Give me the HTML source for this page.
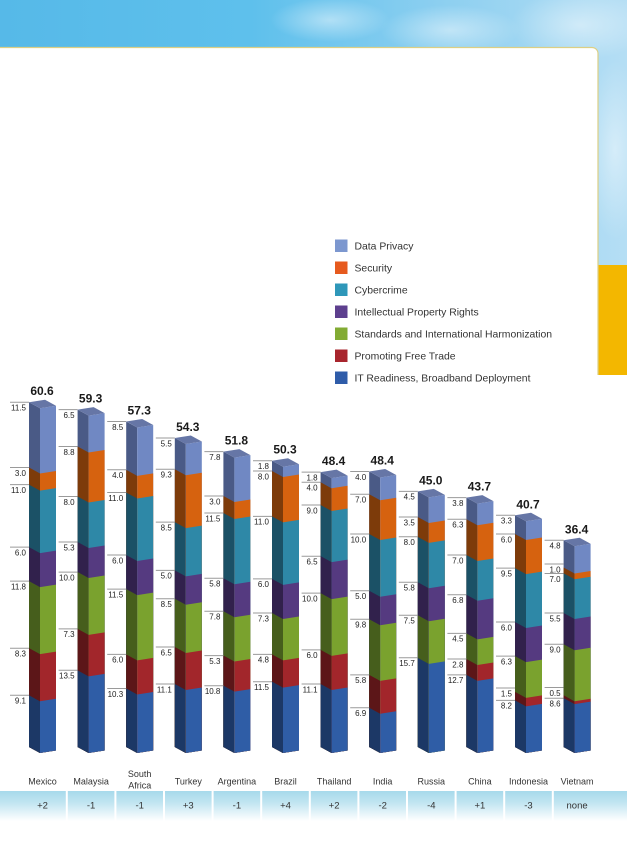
<!DOCTYPE html>
<html><head><meta charset="utf-8"><style>
body{margin:0;background:#fff}
svg{display:block}
.l .p{fill:#4a5a86}.r .p{fill:#7088c3}
.l .s{fill:#7d3b0a}.r .s{fill:#d6620f}
.l .c{fill:#1b5166}.r .c{fill:#2e88a7}
.l .i{fill:#31214c}.r .i{fill:#553a80}
.l .d{fill:#465e1c}.r .d{fill:#7aa22e}
.l .f{fill:#5c1618}.r .f{fill:#a2262b}
.l .t{fill:#1c3866}.r .t{fill:#2f5da6}
.cap{fill:#6676a6}
text{font-family:"Liberation Sans",sans-serif}
.v{font-size:8px;fill:#222;text-anchor:end}
.tot{font-size:12px;font-weight:bold;fill:#1a1a1a;text-anchor:middle}
.cn{font-size:9px;fill:#333;text-anchor:middle}
.rk{font-size:9.5px;fill:#333;text-anchor:middle}
.lg{font-size:10.4px;fill:#333}
</style></head><body>
<svg width="627" height="850" viewBox="0 0 627 850" xmlns="http://www.w3.org/2000/svg">
<defs>
<linearGradient id="sky" x1="0" y1="0" x2="1" y2="0">
<stop offset="0" stop-color="#56b9e8"/><stop offset="0.4" stop-color="#5ec0ec"/><stop offset="0.7" stop-color="#8ccff0"/><stop offset="1" stop-color="#b5def4"/>
</linearGradient>
<radialGradient id="cl"><stop offset="0" stop-color="#ffffff" stop-opacity="0.45"/><stop offset="1" stop-color="#ffffff" stop-opacity="0"/></radialGradient>
<linearGradient id="band" x1="0" y1="0" x2="0" y2="1">
<stop offset="0" stop-color="#a7d9eb"/><stop offset="0.4" stop-color="#c2e5f1"/><stop offset="1" stop-color="#ffffff"/>
</linearGradient>
</defs>
<rect x="0" y="0" width="627" height="266" fill="url(#sky)"/>
<ellipse cx="330" cy="20" rx="60" ry="22" fill="url(#cl)"/>
<ellipse cx="450" cy="30" rx="70" ry="25" fill="url(#cl)"/>
<ellipse cx="580" cy="25" rx="70" ry="35" fill="url(#cl)"/>
<ellipse cx="615" cy="150" rx="30" ry="90" fill="url(#cl)"/>
<path d="M0 47H592a6 6 0 0 1 6 6V850H0Z" fill="#fff"/>
<rect x="598" y="375" width="29" height="475" fill="#fff"/>
<rect x="598.5" y="265" width="28.5" height="110" fill="#f3b700"/>
<path d="M0 47.5H592a6 6 0 0 1 6 6V375" fill="none" stroke="#dccf84" stroke-width="1.2"/>

<!-- legend -->
<rect x="335" y="239.5" width="12.5" height="12.5" fill="#7c97cf"/>
<rect x="335" y="261.5" width="12.5" height="12.5" fill="#e65a1e"/>
<rect x="335" y="283.5" width="12.5" height="12.5" fill="#2e97b9"/>
<rect x="335" y="305.5" width="12.5" height="12.5" fill="#5d3f8e"/>
<rect x="335" y="327.5" width="12.5" height="12.5" fill="#82ab33"/>
<rect x="335" y="349.5" width="12.5" height="12.5" fill="#a8252d"/>
<rect x="335" y="371.5" width="12.5" height="12.5" fill="#2f5ca9"/>
<text class="lg" x="354.5" y="249.5">Data Privacy</text>
<text class="lg" x="354.5" y="271.5">Security</text>
<text class="lg" x="354.5" y="293.5">Cybercrime</text>
<text class="lg" x="354.5" y="315.5">Intellectual Property Rights</text>
<text class="lg" x="354.5" y="337.5">Standards and International Harmonization</text>
<text class="lg" x="354.5" y="359.5">Promoting Free Trade</text>
<text class="lg" x="354.5" y="381.5">IT Readiness, Broadband Deployment</text>

<!-- bars -->
<g class="l" transform="matrix(1,.5455,0,1,29,-6)"><g transform="translate(0,753) scale(1,-5.68)"><rect class="p" width="11" height="60.7"/><rect class="s" width="11" height="49.2"/><rect class="c" width="11" height="46.2"/><rect class="i" width="11" height="35.2"/><rect class="d" width="11" height="29.2"/><rect class="f" width="11" height="17.4"/><rect class="t" width="11" height="9.1"/></g></g>
<g class="r" transform="matrix(1,-.15625,0,1,40,0)"><g transform="translate(0,753) scale(1,-5.68)"><rect class="p" width="16" height="60.7"/><rect class="s" width="16" height="49.2"/><rect class="c" width="16" height="46.2"/><rect class="i" width="16" height="35.2"/><rect class="d" width="16" height="29.2"/><rect class="f" width="16" height="17.4"/><rect class="t" width="16" height="9.1"/></g></g>
<polygon class="cap" points="29,402.2 40,408.2 56,405.7 45,399.7"/>

<g class="l" transform="matrix(1,.5455,0,1,77.6,-6)"><g transform="translate(0,753) scale(1,-5.68)"><rect class="p" width="11" height="59.4"/><rect class="s" width="11" height="52.9"/><rect class="c" width="11" height="44.1"/><rect class="i" width="11" height="36.1"/><rect class="d" width="11" height="30.8"/><rect class="f" width="11" height="20.8"/><rect class="t" width="11" height="13.5"/></g></g>
<g class="r" transform="matrix(1,-.15625,0,1,88.6,0)"><g transform="translate(0,753) scale(1,-5.68)"><rect class="p" width="16" height="59.4"/><rect class="s" width="16" height="52.9"/><rect class="c" width="16" height="44.1"/><rect class="i" width="16" height="36.1"/><rect class="d" width="16" height="30.8"/><rect class="f" width="16" height="20.8"/><rect class="t" width="16" height="13.5"/></g></g>
<polygon class="cap" points="77.6,409.6 88.6,415.6 104.6,413.1 93.6,407.1"/>

<g class="l" transform="matrix(1,.5455,0,1,126.2,-6)"><g transform="translate(0,753) scale(1,-5.68)"><rect class="p" width="11" height="57.3"/><rect class="s" width="11" height="48.8"/><rect class="c" width="11" height="44.8"/><rect class="i" width="11" height="33.8"/><rect class="d" width="11" height="27.8"/><rect class="f" width="11" height="16.3"/><rect class="t" width="11" height="10.3"/></g></g>
<g class="r" transform="matrix(1,-.15625,0,1,137.2,0)"><g transform="translate(0,753) scale(1,-5.68)"><rect class="p" width="16" height="57.3"/><rect class="s" width="16" height="48.8"/><rect class="c" width="16" height="44.8"/><rect class="i" width="16" height="33.8"/><rect class="d" width="16" height="27.8"/><rect class="f" width="16" height="16.3"/><rect class="t" width="16" height="10.3"/></g></g>
<polygon class="cap" points="126.2,421.5 137.2,427.5 153.2,425 142.2,419"/>

<g class="l" transform="matrix(1,.5455,0,1,174.8,-6)"><g transform="translate(0,753) scale(1,-5.68)"><rect class="p" width="11" height="54.4"/><rect class="s" width="11" height="48.9"/><rect class="c" width="11" height="39.6"/><rect class="i" width="11" height="31.1"/><rect class="d" width="11" height="26.1"/><rect class="f" width="11" height="17.6"/><rect class="t" width="11" height="11.1"/></g></g>
<g class="r" transform="matrix(1,-.15625,0,1,185.8,0)"><g transform="translate(0,753) scale(1,-5.68)"><rect class="p" width="16" height="54.4"/><rect class="s" width="16" height="48.9"/><rect class="c" width="16" height="39.6"/><rect class="i" width="16" height="31.1"/><rect class="d" width="16" height="26.1"/><rect class="f" width="16" height="17.6"/><rect class="t" width="16" height="11.1"/></g></g>
<polygon class="cap" points="174.8,438 185.8,444 201.8,441.5 190.8,435.5"/>

<g class="l" transform="matrix(1,.5455,0,1,223.4,-6)"><g transform="translate(0,753) scale(1,-5.68)"><rect class="p" width="11" height="52"/><rect class="s" width="11" height="44.2"/><rect class="c" width="11" height="41.2"/><rect class="i" width="11" height="29.7"/><rect class="d" width="11" height="23.9"/><rect class="f" width="11" height="16.1"/><rect class="t" width="11" height="10.8"/></g></g>
<g class="r" transform="matrix(1,-.15625,0,1,234.4,0)"><g transform="translate(0,753) scale(1,-5.68)"><rect class="p" width="16" height="52"/><rect class="s" width="16" height="44.2"/><rect class="c" width="16" height="41.2"/><rect class="i" width="16" height="29.7"/><rect class="d" width="16" height="23.9"/><rect class="f" width="16" height="16.1"/><rect class="t" width="16" height="10.8"/></g></g>
<polygon class="cap" points="223.4,451.6 234.4,457.6 250.4,455.1 239.4,449.1"/>

<g class="l" transform="matrix(1,.5455,0,1,272,-6)"><g transform="translate(0,753) scale(1,-5.68)"><rect class="p" width="11" height="50.4"/><rect class="s" width="11" height="48.6"/><rect class="c" width="11" height="40.6"/><rect class="i" width="11" height="29.6"/><rect class="d" width="11" height="23.6"/><rect class="f" width="11" height="16.3"/><rect class="t" width="11" height="11.5"/></g></g>
<g class="r" transform="matrix(1,-.15625,0,1,283,0)"><g transform="translate(0,753) scale(1,-5.68)"><rect class="p" width="16" height="50.4"/><rect class="s" width="16" height="48.6"/><rect class="c" width="16" height="40.6"/><rect class="i" width="16" height="29.6"/><rect class="d" width="16" height="23.6"/><rect class="f" width="16" height="16.3"/><rect class="t" width="16" height="11.5"/></g></g>
<polygon class="cap" points="272,460.7 283,466.7 299,464.2 288,458.2"/>

<g class="l" transform="matrix(1,.5455,0,1,320.6,-6)"><g transform="translate(0,753) scale(1,-5.68)"><rect class="p" width="11" height="48.4"/><rect class="s" width="11" height="46.6"/><rect class="c" width="11" height="42.6"/><rect class="i" width="11" height="33.6"/><rect class="d" width="11" height="27.1"/><rect class="f" width="11" height="17.1"/><rect class="t" width="11" height="11.1"/></g></g>
<g class="r" transform="matrix(1,-.15625,0,1,331.6,0)"><g transform="translate(0,753) scale(1,-5.68)"><rect class="p" width="16" height="48.4"/><rect class="s" width="16" height="46.6"/><rect class="c" width="16" height="42.6"/><rect class="i" width="16" height="33.6"/><rect class="d" width="16" height="27.1"/><rect class="f" width="16" height="17.1"/><rect class="t" width="16" height="11.1"/></g></g>
<polygon class="cap" points="320.6,472.1 331.6,478.1 347.6,475.6 336.6,469.6"/>

<g class="l" transform="matrix(1,.5455,0,1,369.2,-6)"><g transform="translate(0,753) scale(1,-5.68)"><rect class="p" width="11" height="48.5"/><rect class="s" width="11" height="44.5"/><rect class="c" width="11" height="37.5"/><rect class="i" width="11" height="27.5"/><rect class="d" width="11" height="22.5"/><rect class="f" width="11" height="12.7"/><rect class="t" width="11" height="6.9"/></g></g>
<g class="r" transform="matrix(1,-.15625,0,1,380.2,0)"><g transform="translate(0,753) scale(1,-5.68)"><rect class="p" width="16" height="48.5"/><rect class="s" width="16" height="44.5"/><rect class="c" width="16" height="37.5"/><rect class="i" width="16" height="27.5"/><rect class="d" width="16" height="22.5"/><rect class="f" width="16" height="12.7"/><rect class="t" width="16" height="6.9"/></g></g>
<polygon class="cap" points="369.2,471.5 380.2,477.5 396.2,475 385.2,469"/>

<g class="l" transform="matrix(1,.5455,0,1,417.8,-6)"><g transform="translate(0,753) scale(1,-5.68)"><rect class="p" width="11" height="45"/><rect class="s" width="11" height="40.5"/><rect class="c" width="11" height="37"/><rect class="i" width="11" height="29"/><rect class="d" width="11" height="23.2"/><rect class="t" width="11" height="15.7"/></g></g>
<g class="r" transform="matrix(1,-.15625,0,1,428.8,0)"><g transform="translate(0,753) scale(1,-5.68)"><rect class="p" width="16" height="45"/><rect class="s" width="16" height="40.5"/><rect class="c" width="16" height="37"/><rect class="i" width="16" height="29"/><rect class="d" width="16" height="23.2"/><rect class="t" width="16" height="15.7"/></g></g>
<polygon class="cap" points="417.8,491.4 428.8,497.4 444.8,494.9 433.8,488.9"/>

<g class="l" transform="matrix(1,.5455,0,1,466.4,-6)"><g transform="translate(0,753) scale(1,-5.68)"><rect class="p" width="11" height="43.9"/><rect class="s" width="11" height="40.1"/><rect class="c" width="11" height="33.8"/><rect class="i" width="11" height="26.8"/><rect class="d" width="11" height="20"/><rect class="f" width="11" height="15.5"/><rect class="t" width="11" height="12.7"/></g></g>
<g class="r" transform="matrix(1,-.15625,0,1,477.4,0)"><g transform="translate(0,753) scale(1,-5.68)"><rect class="p" width="16" height="43.9"/><rect class="s" width="16" height="40.1"/><rect class="c" width="16" height="33.8"/><rect class="i" width="16" height="26.8"/><rect class="d" width="16" height="20"/><rect class="f" width="16" height="15.5"/><rect class="t" width="16" height="12.7"/></g></g>
<polygon class="cap" points="466.4,497.6 477.4,503.6 493.4,501.1 482.4,495.1"/>

<g class="l" transform="matrix(1,.5455,0,1,515,-6)"><g transform="translate(0,753) scale(1,-5.68)"><rect class="p" width="11" height="40.8"/><rect class="s" width="11" height="37.5"/><rect class="c" width="11" height="31.5"/><rect class="i" width="11" height="22"/><rect class="d" width="11" height="16"/><rect class="f" width="11" height="9.7"/><rect class="t" width="11" height="8.2"/></g></g>
<g class="r" transform="matrix(1,-.15625,0,1,526,0)"><g transform="translate(0,753) scale(1,-5.68)"><rect class="p" width="16" height="40.8"/><rect class="s" width="16" height="37.5"/><rect class="c" width="16" height="31.5"/><rect class="i" width="16" height="22"/><rect class="d" width="16" height="16"/><rect class="f" width="16" height="9.7"/><rect class="t" width="16" height="8.2"/></g></g>
<polygon class="cap" points="515,515.3 526,521.3 542,518.8 531,512.8"/>

<g class="l" transform="matrix(1,.5455,0,1,563.6,-6)"><g transform="translate(0,753) scale(1,-5.68)"><rect class="p" width="11" height="36.4"/><rect class="s" width="11" height="31.6"/><rect class="c" width="11" height="30.6"/><rect class="i" width="11" height="23.6"/><rect class="d" width="11" height="18.1"/><rect class="f" width="11" height="9.1"/><rect class="t" width="11" height="8.6"/></g></g>
<g class="r" transform="matrix(1,-.15625,0,1,574.6,0)"><g transform="translate(0,753) scale(1,-5.68)"><rect class="p" width="16" height="36.4"/><rect class="s" width="16" height="31.6"/><rect class="c" width="16" height="30.6"/><rect class="i" width="16" height="23.6"/><rect class="d" width="16" height="18.1"/><rect class="f" width="16" height="9.1"/><rect class="t" width="16" height="8.6"/></g></g>
<polygon class="cap" points="563.6,540.3 574.6,546.3 590.6,543.8 579.6,537.8"/>

<!-- leader lines -->
<path fill="none" stroke="#9a9a9a" stroke-width="1" d="
M10 695.3h19M10 648.2h19M10 581.1h19M10 547.1h19M10 484.6h19M10 467.5h19M10 402.2h19
M58.6 670.3h19M58.6 628.9h19M58.6 572.1h19M58.6 542h19M58.6 496.5h19M58.6 446.5h19M58.6 409.6h19
M107.2 688.5h19M107.2 654.4h19M107.2 589.1h19M107.2 555h19M107.2 492.5h19M107.2 469.8h19M107.2 421.5h19
M155.8 684h19M155.8 647h19M155.8 598.8h19M155.8 570.4h19M155.8 522.1h19M155.8 469.3h19M155.8 438h19
M204.4 685.7h19M204.4 655.6h19M204.4 611.3h19M204.4 578.3h19M204.4 513h19M204.4 496h19M204.4 451.6h19
M253 681.7h19M253 654.4h19M253 613h19M253 578.9h19M253 516.4h19M253 471h19M253 460.7h19
M301.6 684h19M301.6 649.9h19M301.6 593.1h19M301.6 556.2h19M301.6 505h19M301.6 482.3h19M301.6 472.1h19
M350.2 707.8h19M350.2 674.9h19M350.2 619.2h19M350.2 590.8h19M350.2 534h19M350.2 494.2h19M350.2 471.5h19
M398.8 657.8h19M398.8 615.2h19M398.8 582.3h19M398.8 536.8h19M398.8 517h19M398.8 491.4h19
M447.4 674.9h19M447.4 659h19M447.4 633.4h19M447.4 594.8h19M447.4 555h19M447.4 519.2h19M447.4 497.6h19
M496 700.4h19M496 688h19M496 656.1h19M496 622h19M496 568.1h19M496 534h19M496 515.3h19
M544.6 698.2h19M544.6 687.5h19M544.6 644.2h19M544.6 613h19M544.6 573.5h19M544.6 564h19M544.6 540.3h19"/>

<!-- value labels -->
<g class="v">
<text x="26" y="703.6">9.1</text><text x="26" y="656.5">8.3</text><text x="26" y="589.4">11.8</text><text x="26" y="555.4">6.0</text><text x="26" y="492.9">11.0</text><text x="26" y="475.8">3.0</text><text x="26" y="410.5">11.5</text>
<text x="74.6" y="678.6">13.5</text><text x="74.6" y="637.2">7.3</text><text x="74.6" y="580.4">10.0</text><text x="74.6" y="550.3">5.3</text><text x="74.6" y="504.8">8.0</text><text x="74.6" y="454.8">8.8</text><text x="74.6" y="417.9">6.5</text>
<text x="123.2" y="696.8">10.3</text><text x="123.2" y="662.7">6.0</text><text x="123.2" y="597.4">11.5</text><text x="123.2" y="563.3">6.0</text><text x="123.2" y="500.8">11.0</text><text x="123.2" y="478.1">4.0</text><text x="123.2" y="429.8">8.5</text>
<text x="171.8" y="692.3">11.1</text><text x="171.8" y="655.3">6.5</text><text x="171.8" y="607.1">8.5</text><text x="171.8" y="578.7">5.0</text><text x="171.8" y="530.4">8.5</text><text x="171.8" y="477.6">9.3</text><text x="171.8" y="446.3">5.5</text>
<text x="220.4" y="694">10.8</text><text x="220.4" y="663.9">5.3</text><text x="220.4" y="619.6">7.8</text><text x="220.4" y="586.6">5.8</text><text x="220.4" y="521.3">11.5</text><text x="220.4" y="504.3">3.0</text><text x="220.4" y="459.9">7.8</text>
<text x="269" y="690">11.5</text><text x="269" y="662.7">4.8</text><text x="269" y="621.3">7.3</text><text x="269" y="587.2">6.0</text><text x="269" y="524.7">11.0</text><text x="269" y="479.3">8.0</text><text x="269" y="469">1.8</text>
<text x="317.6" y="692.3">11.1</text><text x="317.6" y="658.2">6.0</text><text x="317.6" y="601.4">10.0</text><text x="317.6" y="564.5">6.5</text><text x="317.6" y="513.3">9.0</text><text x="317.6" y="490.6">4.0</text><text x="317.6" y="480.4">1.8</text>
<text x="366.2" y="716.1">6.9</text><text x="366.2" y="683.2">5.8</text><text x="366.2" y="627.5">9.8</text><text x="366.2" y="599.1">5.0</text><text x="366.2" y="542.3">10.0</text><text x="366.2" y="502.5">7.0</text><text x="366.2" y="479.8">4.0</text>
<text x="414.8" y="666.1">15.7</text><text x="414.8" y="623.5">7.5</text><text x="414.8" y="590.6">5.8</text><text x="414.8" y="545.1">8.0</text><text x="414.8" y="525.3">3.5</text><text x="414.8" y="499.7">4.5</text>
<text x="463.4" y="683.2">12.7</text><text x="463.4" y="667.3">2.8</text><text x="463.4" y="641.7">4.5</text><text x="463.4" y="603.1">6.8</text><text x="463.4" y="563.3">7.0</text><text x="463.4" y="527.5">6.3</text><text x="463.4" y="505.9">3.8</text>
<text x="512" y="708.7">8.2</text><text x="512" y="696.3">1.5</text><text x="512" y="664.4">6.3</text><text x="512" y="630.3">6.0</text><text x="512" y="576.4">9.5</text><text x="512" y="542.3">6.0</text><text x="512" y="523.6">3.3</text>
<text x="560.6" y="706.5">8.6</text><text x="560.6" y="695.8">0.5</text><text x="560.6" y="652.5">9.0</text><text x="560.6" y="621.3">5.5</text><text x="560.6" y="581.8">7.0</text><text x="560.6" y="572.3">1.0</text><text x="560.6" y="548.6">4.8</text>
</g>

<!-- totals -->
<g class="tot">
<text x="42" y="395.2">60.6</text><text x="90.6" y="402.6">59.3</text><text x="139.2" y="414.5">57.3</text><text x="187.8" y="431">54.3</text><text x="236.4" y="444.6">51.8</text><text x="285" y="453.7">50.3</text><text x="333.6" y="465.1">48.4</text><text x="382.2" y="464.5">48.4</text><text x="430.8" y="484.4">45.0</text><text x="479.4" y="490.6">43.7</text><text x="528" y="508.3">40.7</text><text x="576.6" y="533.3">36.4</text>
</g>

<!-- country names -->
<g class="cn">
<text x="42.5" y="784.5">Mexico</text><text x="91.1" y="784.5">Malaysia</text><text x="139.7" y="777">South</text><text x="139.7" y="788.5">Africa</text><text x="188.3" y="784.5">Turkey</text><text x="236.9" y="784.5">Argentina</text><text x="285.5" y="784.5">Brazil</text><text x="334.1" y="784.5">Thailand</text><text x="382.7" y="784.5">India</text><text x="431.3" y="784.5">Russia</text><text x="479.9" y="784.5">China</text><text x="528.5" y="784.5">Indonesia</text><text x="577.1" y="784.5">Vietnam</text>
</g>

<!-- rank band -->
<rect x="0" y="791" width="627" height="30" fill="url(#band)"/>
<path stroke="#fff" stroke-width="2" d="M66.8 791v30M115.4 791v30M164 791v30M212.6 791v30M261.2 791v30M309.8 791v30M358.4 791v30M407 791v30M455.6 791v30M504.2 791v30M552.8 791v30"/>
<g class="rk">
<text x="42.5" y="808.5">+2</text><text x="91.1" y="808.5">-1</text><text x="139.7" y="808.5">-1</text><text x="188.3" y="808.5">+3</text><text x="236.9" y="808.5">-1</text><text x="285.5" y="808.5">+4</text><text x="334.1" y="808.5">+2</text><text x="382.7" y="808.5">-2</text><text x="431.3" y="808.5">-4</text><text x="479.9" y="808.5">+1</text><text x="528.5" y="808.5">-3</text><text x="577.1" y="808.5">none</text>
</g>
</svg>
</body></html>
